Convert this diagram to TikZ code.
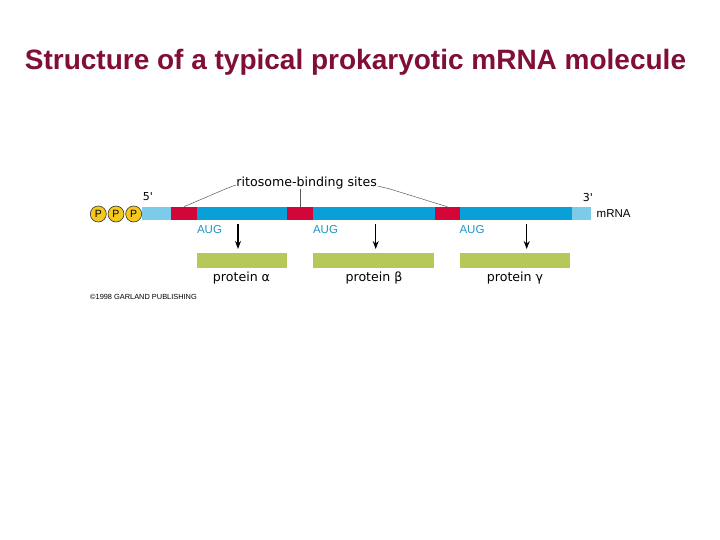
\documentclass[tikz,border=0pt]{standalone}
\usepackage{fontspec}
\setmainfont{Liberation Sans}
\newfontfamily\dejavu{DejaVu Sans}
\usetikzlibrary{arrows.meta,calc}
\definecolor{titlered}{RGB}{128,14,56}
\definecolor{lblue}{RGB}{125,203,235}
\definecolor{mblue}{RGB}{8,160,214}
\definecolor{rred}{RGB}{210,6,56}
\definecolor{pgreen}{RGB}{182,201,88}
\definecolor{augcol}{RGB}{30,150,195}
\definecolor{pyellow}{RGB}{245,200,30}
\definecolor{lgray}{RGB}{90,90,90}
\begin{document}
\begin{tikzpicture}[x=1pt,y=-1pt,
  seg/.style={rectangle,inner sep=0pt,outer sep=0pt,draw=none,minimum height=13.3pt},
  pbox/.style={rectangle,inner sep=0pt,outer sep=0pt,draw=none,fill=pgreen,minimum height=14.4pt},
  phos/.style={circle,inner sep=0pt,minimum size=16pt,fill=pyellow,draw=black!80,line width=0.6pt,font=\fontsize{10.5}{11}\selectfont},
  aug/.style={text=augcol,font=\fontsize{11.5}{12}\selectfont,inner sep=0pt},
  lab/.style={font=\fontsize{11.5}{12}\selectfont,inner sep=0pt},
  dlab/.style={font=\dejavu\fontsize{11}{12}\selectfont,inner sep=0pt},
  wlab/.style={font=\dejavu\fontsize{12.6}{13}\selectfont,inner sep=0pt},
  conn/.style={draw=lgray,line width=0.5pt},
  arr/.style={draw=black,line width=1.1pt,-{Stealth[length=8pt,width=6pt]}}]
\useasboundingbox (0,0) rectangle (720,540);
\fill[white] (0,0) rectangle (720,540);
% title
\node[text=titlered,font=\bfseries\fontsize{28}{32}\selectfont,inner sep=0pt] (title) at (355.5,62.5) {Structure of a typical prokaryotic mRNA molecule};
% mRNA bar
\node[seg,fill=lblue,minimum width=28.7pt] (lb1) at (156.65,213.4) {};
\node[seg,fill=rred,minimum width=25.7pt] (r1) at (183.85,213.4) {};
\node[seg,fill=mblue,minimum width=90.6pt] (b1) at (242,213.4) {};
\node[seg,fill=rred,minimum width=26pt] (r2) at (300.3,213.4) {};
\node[seg,fill=mblue,minimum width=121.7pt] (b2) at (374.15,213.4) {};
\node[seg,fill=rred,minimum width=24.5pt] (r3) at (447.25,213.4) {};
\node[seg,fill=mblue,minimum width=112.2pt] (b3) at (515.6,213.4) {};
\node[seg,fill=lblue,minimum width=19pt] (lb2) at (581.2,213.4) {};
% phosphates
\node[phos] (p1) at (98.3,214) {P};
\node[phos] (p2) at (116,214) {P};
\node[phos] (p3) at (133.7,214) {P};
% ends
\node[dlab] (five) at (148,197) {5'};
\node[dlab] (three) at (588,197) {3'};
\node[lab,anchor=west] (mrna) at (596.5,213.5) {mRNA};
% ribosome-binding sites
\node[wlab] (rbs) at (306.7,183) {ritosome-binding sites};
\coordinate (lk) at (227,188.3);
\coordinate (rk) at (390,189);
\draw[conn] ($(rbs.west)+(-0.5,2)$) -- (lk) -- (r1.north);
\draw[conn] (rbs.south -| r2.north) -- (r2.north);
\draw[conn] ($(rbs.east)+(0.5,3)$) -- (rk) -- (r3.north);
% AUG labels
\node[aug] (aug1) at (209.5,230) {AUG};
\node[aug] (aug2) at (325.5,230) {AUG};
\node[aug] (aug3) at (472,230) {AUG};
% protein boxes
\node[pbox,minimum width=90.6pt] (g1) at (242,260.5) {};
\node[pbox,minimum width=120.7pt] (g2) at (373.65,260.5) {};
\node[pbox,minimum width=110pt] (g3) at (515,260.5) {};
% arrows
\coordinate (a1s) at (238,224); \coordinate (a1e) at (238,249);
\coordinate (a2s) at (375.7,224); \coordinate (a2e) at (375.7,249);
\coordinate (a3s) at (526.7,224); \coordinate (a3e) at (526.7,249);
\draw[arr] (a1s) -- (a1e);
\draw[arr] (a2s) -- (a2e);
\draw[arr] (a3s) -- (a3e);
% protein labels
\node[wlab] (pa) at (241.5,278) {protein α};
\node[wlab] (pb) at (374,278) {protein β};
\node[wlab] (pc) at (515,278) {protein γ};
% copyright
\node[font=\fontsize{7.4}{8}\selectfont,inner sep=0pt,anchor=west] (copy) at (90,297) {©1998 GARLAND PUBLISHING};
\end{tikzpicture}
\end{document}
